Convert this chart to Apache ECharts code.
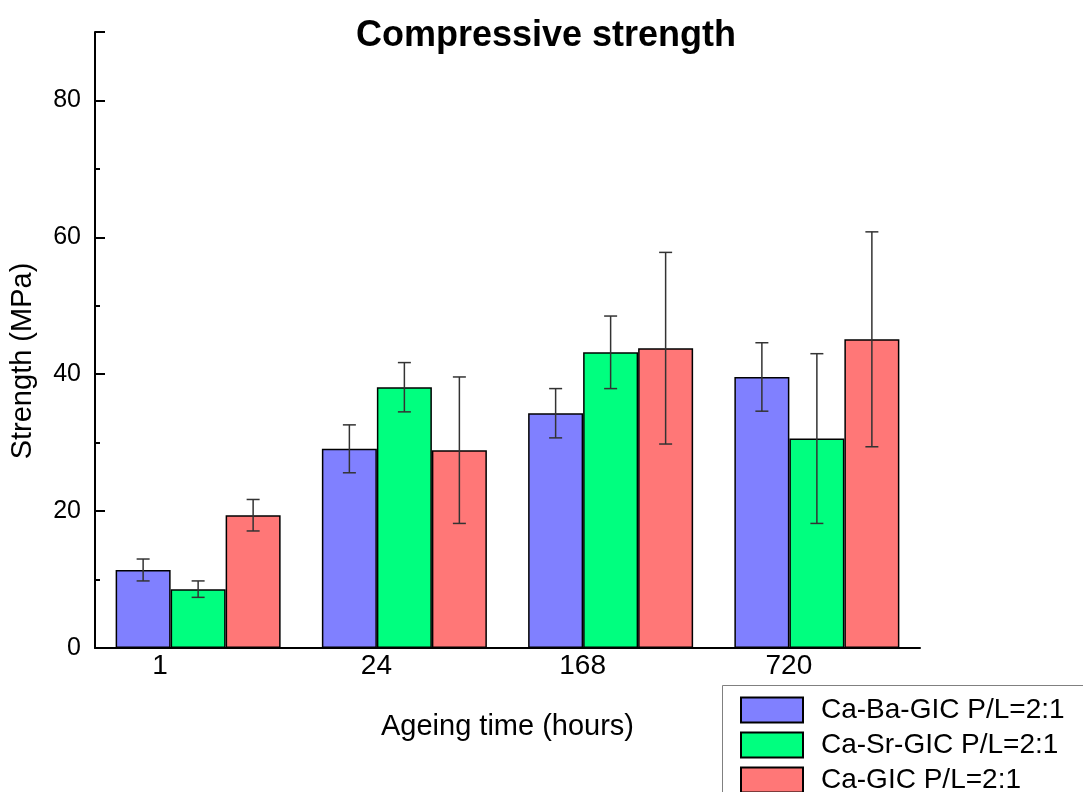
<!DOCTYPE html>
<html>
<head>
<meta charset="utf-8">
<script src="https://cdn.jsdelivr.net/npm/echarts@6/dist/echarts.min.js"></script>
<style>
  html, body { margin: 0; padding: 0; background: #ffffff; overflow: hidden; }
  #chart { width: 1083px; height: 792px; }
</style>
</head>
<body>
<div id="chart"></div>
<script>
// Ageing times (hours)
const categories = ['1', '24', '168', '720'];

// Mean compressive strength (MPa) and standard deviations
const baValues = [11.4, 29.1, 34.3, 39.6];
const baErrors = [1.6, 3.5, 3.6, 5.0];
const srValues = [8.6, 38.1, 43.2, 30.6];
const srErrors = [1.2, 3.6, 5.3, 12.4];
const caValues = [19.4, 28.9, 43.8, 45.1];
const caErrors = [2.3, 10.7, 14.0, 15.7];

const seriesNames = ['Ca-Ba-GIC P/L=2:1', 'Ca-Sr-GIC P/L=2:1', 'Ca-GIC P/L=2:1'];
const seriesColors = ['#8080ff', '#00ff7f', '#ff7777'];

const yTicks = [0, 20, 40, 60, 80];

const FONT = '"Liberation Sans", Arial, Helvetica, sans-serif';
const BAR_WIDTH = 55;

const chart = echarts.init(document.getElementById('chart'), null, { renderer: 'canvas' });

const groups = [
  { values: baValues, errors: baErrors },
  { values: srValues, errors: srErrors },
  { values: caValues, errors: caErrors }
];

// Error bar records: [category index, low, high, series slot]
const errorData = [];
groups.forEach((g, s) => {
  g.values.forEach((v, i) => {
    errorData.push([i, v - g.errors[i], v + g.errors[i], s]);
  });
});

function renderErrorBar(params, api) {
  const slot = api.value(3);
  const offset = (slot - 1) * BAR_WIDTH;
  const lo = api.coord([api.value(0), api.value(1)]);
  const hi = api.coord([api.value(0), api.value(2)]);
  const x = lo[0] + offset;
  const cap = 6.5;
  const style = { stroke: '#333333', lineWidth: 1.5 };
  return {
    type: 'group',
    children: [
      { type: 'line', shape: { x1: x, y1: lo[1], x2: x, y2: hi[1] }, style: style },
      { type: 'line', shape: { x1: x - cap, y1: hi[1], x2: x + cap, y2: hi[1] }, style: style },
      { type: 'line', shape: { x1: x - cap, y1: lo[1], x2: x + cap, y2: lo[1] }, style: style }
    ]
  };
}

const barSeries = groups.map((g, s) => ({
  name: seriesNames[s],
  type: 'bar',
  data: g.values,
  barWidth: BAR_WIDTH,
  barGap: '0%',
  itemStyle: { color: seriesColors[s], borderColor: '#000000', borderWidth: 1.5 },
  z: 2
}));

const option = {
  backgroundColor: '#ffffff',
  animation: false,
  textStyle: { fontFamily: FONT },
  title: {
    text: 'Compressive strength',
    left: 541,
    textAlign: 'center',
    top: 13,
    textStyle: { fontFamily: FONT, fontSize: 36, fontWeight: 'bold', color: '#000000' }
  },
  grid: { left: 93, right: 163, top: 32, bottom: 144, containLabel: false },
  // Legend frame: only its top and left edges fall inside the canvas
  graphic: [{
    type: 'polyline',
    shape: { points: [[722.5, 820], [722.5, 685.5], [1120, 685.5]] },
    style: { fill: null, stroke: '#808080', lineWidth: 1 },
    z: 10
  }],
  legend: {
    data: seriesNames,
    orient: 'vertical',
    left: 722,
    top: 685,
    width: 400,
    height: 130,
    padding: [11, 60, 20, 18],
    itemWidth: 62,
    itemHeight: 25,
    itemGap: 7,
    icon: 'rect',
    borderWidth: 0,
    z: 20,
    textStyle: { fontFamily: FONT, fontSize: 28, color: '#000000', lineHeight: 25, padding: [0, 0, 0, 13] }
  },
  xAxis: {
    type: 'category',
    data: categories,
    name: 'Ageing time (hours)',
    nameLocation: 'middle',
    nameGap: 64,
    nameTextStyle: { fontFamily: FONT, fontSize: 29, color: '#000000' },
    axisLine: { lineStyle: { color: '#000000', width: 2 } },
    axisTick: { show: false },
    axisLabel: {
      fontFamily: FONT,
      fontSize: 28,
      color: '#000000',
      margin: 4,
      padding: [0, 56, 0, 0],
      formatter: (v, i) => (i === 0 ? '{first|' + v + '}' : v),
      rich: { first: { fontFamily: FONT, fontSize: 28, color: '#000000', padding: [0, 20, 0, 0] } }
    },
    splitLine: { show: false }
  },
  yAxis: {
    type: 'value',
    min: 0,
    max: 90,
    interval: 20,
    name: 'Strength (MPa)',
    nameLocation: 'middle',
    nameGap: 58,
    nameRotate: 90,
    nameTextStyle: { fontFamily: FONT, fontSize: 29, color: '#000000', padding: [0, 42, 0, 0] },
    axisLine: { show: true, lineStyle: { color: '#000000', width: 2 } },
    axisTick: { show: true, inside: true, length: 10, lineStyle: { color: '#000000', width: 2 } },
    minorTick: { show: true, splitNumber: 2, length: 5, lineStyle: { color: '#000000', width: 2 } },
    axisLabel: {
      fontFamily: FONT,
      fontSize: 25,
      color: '#000000',
      margin: 14,
      formatter: (v) => (yTicks.indexOf(v) >= 0 ? String(v) : '')
    },
    splitLine: { show: false }
  },
  series: barSeries.concat([{
    type: 'custom',
    name: 'error',
    renderItem: renderErrorBar,
    data: errorData,
    encode: { x: 0, y: [1, 2] },
    z: 5,
    silent: true
  }])
};

chart.setOption(option);
</script>
</body>
</html>
